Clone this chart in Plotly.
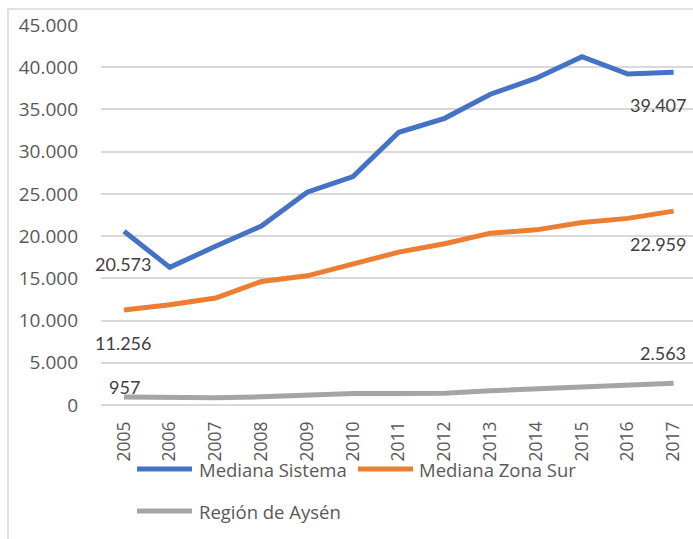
import plotly.graph_objects as go

years = list(range(2005, 2018))
mediana_sistema = [20573, 16300, 18800, 21200, 25200, 27050, 32300, 33950, 36800, 38700, 41250, 39200, 39407]
mediana_zona_sur = [11256, 11870, 12660, 14630, 15300, 16700, 18100, 19090, 20350, 20740, 21600, 22100, 22959]
region_aysen = [957, 900, 850, 970, 1170, 1350, 1350, 1400, 1690, 1890, 2200, 2400, 2563]

series_names = ["Mediana Sistema", "Mediana Zona Sur", "Región de Aysén"]
series_values = [mediana_sistema, mediana_zona_sur, region_aysen]
colors = ["#4472C4", "#ED7D31", "#A5A5A5"]

y_ticks = [0, 5000, 10000, 15000, 20000, 25000, 30000, 35000, 40000, 45000]

W, H = 693, 539
ML, MR, MT, MB = 101, 0, 25, 134
PW = W - ML - MR
PH = H - MT - MB


def px(x):
    return (x - ML) / PW


def py(y):
    return (H - MB - y) / PH


def fmt(v):
    return f"{v:,}".replace(",", ".")


fig = go.Figure()
for name, vals, col in zip(series_names, series_values, colors):
    fig.add_trace(go.Scatter(x=years, y=vals, mode="lines", name=name,
                             line=dict(color=col, width=5), showlegend=False,
                             hoverinfo="skip"))

label_font = dict(family="Lato, Open Sans, sans-serif", size=18, color="#404040")
annotations = []
# first-year labels
annotations.append(dict(x=years[0], y=mediana_sistema[0], text=fmt(mediana_sistema[0]),
                        showarrow=False, yshift=-33, xshift=-1, font=label_font))
annotations.append(dict(x=years[0], y=mediana_zona_sur[0], text=fmt(mediana_zona_sur[0]),
                        showarrow=False, yshift=-33, xshift=-1, font=label_font))
annotations.append(dict(x=years[0], y=region_aysen[0], text=fmt(region_aysen[0]),
                        showarrow=False, yshift=10, font=label_font))
# last-year labels
annotations.append(dict(x=years[-1], y=mediana_sistema[-1], text=fmt(mediana_sistema[-1]),
                        showarrow=False, yshift=-33, xshift=14, xanchor="right", font=label_font))
annotations.append(dict(x=years[-1], y=mediana_zona_sur[-1], text=fmt(mediana_zona_sur[-1]),
                        showarrow=False, yshift=-33, xshift=14, xanchor="right", font=label_font))
annotations.append(dict(x=years[-1], y=region_aysen[-1], text=fmt(region_aysen[-1]),
                        showarrow=False, yshift=30, xshift=14, xanchor="right", font=label_font))

# manual legend
legend_font = dict(family="Open Sans, sans-serif", size=18.5, color="#595959")
legend_items = [(137, 192, 197, 469), (358, 413, 417, 469), (137, 192, 197, 511)]
shapes = []
for (x0, x1, tx, yy), name, col in zip(legend_items, series_names, colors):
    shapes.append(dict(type="line", xref="paper", yref="paper", x0=px(x0), x1=px(x1),
                       y0=py(yy), y1=py(yy), line=dict(color=col, width=5)))
    annotations.append(dict(xref="paper", yref="paper", x=px(tx), y=py(yy), text=name,
                            showarrow=False, xanchor="left", yanchor="middle", font=legend_font))

# outer chart border
shapes.append(dict(type="rect", xref="paper", yref="paper", x0=px(8), x1=px(720),
                   y0=py(9), y1=py(560), line=dict(color="#D9D9D9", width=1.5),
                   fillcolor="rgba(0,0,0,0)", layer="above"))

step = 45.8
fig.update_layout(
    width=W, height=H,
    margin=dict(l=ML, r=MR, t=MT, b=MB),
    paper_bgcolor="white", plot_bgcolor="white",
    separators=",.",
    hovermode=False,
    shapes=shapes,
    annotations=annotations,
    xaxis=dict(range=[years[0] - (124 - ML) / step, years[0] + (W - 124) / step],
               tickvals=years, ticktext=[str(y) for y in years],
               tickangle=-90, showgrid=False, zeroline=False, showline=False,
               ticks="", ticklabelstandoff=12,
               tickfont=dict(family="Open Sans, sans-serif", size=17.5, color="#595959")),
    yaxis=dict(range=[0, 45000], tickvals=y_ticks, ticktext=[fmt(v) for v in y_ticks],
               showgrid=True, gridcolor="#D9D9D9", gridwidth=1.5,
               zeroline=True, zerolinecolor="#D9D9D9", zerolinewidth=1.5,
               showline=False, ticks="", ticklabelstandoff=22,
               tickfont=dict(family="Open Sans, sans-serif", size=19, color="#595959")),
)

fig.write_html("out.html", config={"displayModeBar": False},
               post_script="document.body.style.margin='0';document.body.style.overflow='hidden';")
